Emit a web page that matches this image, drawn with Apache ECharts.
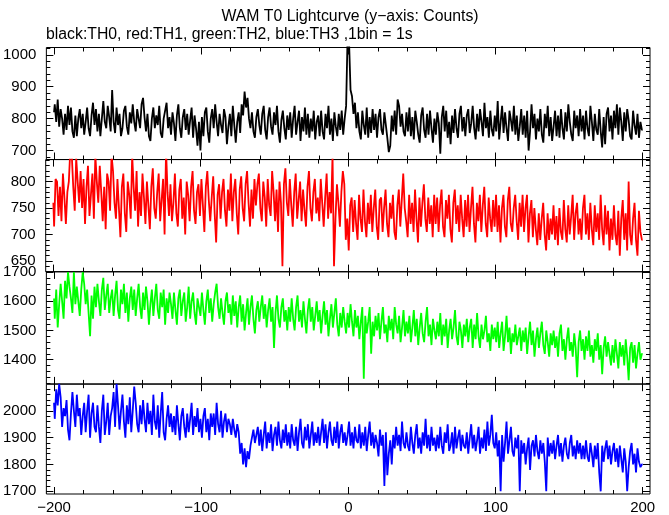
<!DOCTYPE html>
<html><head><meta charset="utf-8">
<script src="https://cdn.jsdelivr.net/npm/echarts@6/dist/echarts.min.js"></script>
<style>html,body{margin:0;padding:0;background:#fff}#c{width:669px;height:515px}</style>
</head><body><div id="c"></div><script>
const titleText = 'WAM T0 Lightcurve (y\u2212axis: Counts)';
const subtitleText = 'black:TH0, red:TH1, green:TH2, blue:TH3 ,1bin = 1s';
const binStart = -200; // time of first 1 s bin

const th0 = [
820,845,790,860,775,830,800,750,815,765, 840,780,835,760,740,810,745,800,830,770,
815,750,790,835,770,745,810,850,780,830, 760,815,745,800,855,790,770,840,805,760,
890,790,755,835,780,815,745,770,825,840, 775,750,820,785,845,790,760,830,800,770,
845,865,805,760,815,745,730,800,835,770, 810,780,840,755,740,800,825,850,770,805,
750,820,785,730,810,845,770,740,805,830, 765,815,750,795,835,740,810,770,715,790,
700,805,745,820,835,760,725,800,830,770, 845,790,745,815,780,755,830,805,720,775,
815,745,840,780,725,790,820,755,845,810, 885,835,865,800,770,820,760,740,805,830,
780,750,815,840,765,735,805,835,775,750, 820,780,840,760,725,795,825,770,735,810,
765,820,740,800,840,750,790,825,730,805, 760,835,750,815,740,800,760,825,735,790,
810,745,825,760,735,815,770,840,750,800, 730,820,775,745,815,765,825,750,800,840,
1060,1040,890,870,815,850,770,820,760,735, 825,780,750,835,740,805,755,830,765,815,
740,805,830,765,750,820,780,740,695,715, 810,760,825,750,860,840,775,815,760,745,
820,760,835,745,805,735,825,790,750,725, 810,835,765,740,815,750,825,770,725,800,
750,820,785,690,805,840,760,825,740,790, 720,810,755,830,770,740,815,840,760,805,
745,810,830,755,785,840,770,735,815,760, 830,790,745,850,770,805,740,825,765,745,
810,760,855,735,790,840,755,820,770,730, 825,795,760,840,750,810,730,775,830,750,
810,740,825,700,760,845,770,815,735,800, 760,830,750,725,815,770,840,745,805,730,
775,825,745,810,740,830,770,735,820,760, 845,790,750,730,825,770,810,745,830,760,
810,735,825,770,745,840,790,730,815,765, 750,830,760,710,805,720,815,835,760,810,
735,825,770,845,750,835,790,730,820,760, 830,795,745,735,825,780,750,815,740,790,
765];

const th1 = [
760,715,805,800,735,790,725,815,770,720, 780,800,860,850,790,745,845,800,760,820,
750,805,720,790,830,735,775,815,730,850, 800,760,830,780,725,790,710,815,800,745,
850,820,760,730,805,750,695,790,815,740, 705,800,775,730,850,790,745,820,715,780,
735,815,770,720,800,755,710,790,825,750, 730,780,815,725,765,805,700,860,780,735,
795,725,760,815,740,715,785,805,730,770, 700,800,775,725,790,820,745,720,780,795,
735,805,755,705,790,820,765,725,770,810, 740,685,775,795,730,780,805,745,715,785,
745,815,725,780,805,740,700,785,810,750, 725,795,820,760,715,785,730,805,755,795,
815,750,725,800,770,715,805,755,735,820, 780,725,785,705,800,760,640,795,825,760,
735,805,755,715,780,815,730,765,800,725, 785,745,715,790,820,750,725,780,805,740,
770,725,805,760,715,770,815,730,780,740, 850,640,730,795,760,715,780,820,795,690,
730,670,755,770,705,765,720,690,775,730, 705,785,725,695,760,720,775,705,750,785,
715,690,765,770,705,750,785,720,695,760, 730,775,705,690,755,785,715,765,815,750,
725,695,775,720,760,705,785,730,685,770, 715,760,795,730,705,770,720,755,695,775,
720,770,705,755,785,715,695,765,730,775, 710,685,760,785,720,755,705,775,730,695,
765,715,775,705,750,790,720,685,760,725, 775,705,755,790,720,695,770,730,705,765,
715,775,705,755,685,750,775,715,695,765, 790,720,705,750,775,725,690,760,715,775,
705,750,775,685,740,765,695,750,710,680, 740,690,730,760,700,670,740,690,730,700,
755,690,735,680,750,705,690,765,710,685, 755,700,735,775,690,740,760,700,730,690,
750,775,700,740,690,760,710,680,755,705, 740,690,775,710,680,755,700,745,670,730,
690,755,700,680,745,660,730,765,690,740, 670,800,700,680,730,760,690,660,745,705,
690];

const th2 = [
1610,1540,1640,1510,1590,1660,1600,1540,1670,1610, 1700,1650,1610,1560,1700,1590,1650,1600,1550,1640,
1700,1660,1590,1640,1560,1480,1620,1540,1650,1580, 1660,1600,1550,1640,1680,1570,1620,1660,1560,1610,
1640,1550,1620,1670,1570,1540,1640,1590,1660,1560, 1630,1530,1610,1650,1570,1640,1550,1610,1660,1580,
1540,1630,1570,1650,1600,1520,1590,1640,1550,1610, 1660,1570,1540,1630,1580,1640,1520,1610,1560,1630,
1590,1540,1630,1570,1520,1610,1640,1550,1600,1630, 1530,1580,1650,1540,1600,1630,1560,1520,1610,1580,
1550,1630,1570,1520,1600,1640,1560,1610,1530,1590, 1630,1660,1580,1540,1610,1560,1520,1600,1630,1560,
1590,1520,1620,1550,1600,1510,1580,1620,1530,1590, 1500,1560,1610,1520,1580,1620,1540,1490,1570,1600,
1530,1580,1620,1540,1590,1510,1570,1610,1530,1580, 1440,1560,1620,1540,1510,1580,1610,1530,1570,1500,
1580,1530,1610,1540,1500,1580,1620,1530,1570,1510, 1600,1540,1490,1570,1610,1530,1580,1500,1550,1600,
1530,1570,1490,1550,1600,1520,1570,1480,1540,1590, 1510,1560,1610,1520,1480,1560,1510,1580,1530,1490,
1560,1510,1590,1530,1480,1570,1510,1550,1470,1530, 1580,1335,1550,1490,1530,1580,1420,1530,1480,1550,
1500,1560,1470,1530,1580,1490,1520,1460,1550,1500, 1540,1470,1580,1520,1490,1550,1460,1510,1570,1480,
1530,1490,1550,1460,1510,1570,1480,1540,1450,1510, 1560,1490,1460,1530,1580,1480,1520,1450,1540,1500,
1470,1530,1480,1560,1450,1520,1480,1540,1440,1500, 1540,1470,1510,1570,1480,1450,1530,1500,1440,1520,
1480,1540,1460,1510,1540,1440,1520,1470,1560,1480, 1440,1520,1470,1500,1550,1460,1490,1430,1520,1470,
1510,1460,1530,1440,1490,1530,1430,1480,1550,1460, 1510,1420,1490,1460,1520,1450,1480,1510,1430,1500,
1460,1510,1420,1480,1530,1450,1500,1410,1470,1510, 1440,1490,1530,1450,1420,1500,1460,1410,1490,1450,
1500,1440,1480,1410,1490,1520,1430,1470,1400,1470, 1510,1430,1460,1410,1490,1440,1340,1460,1500,1430,
1470,1400,1480,1430,1500,1410,1450,1390,1470,1430, 1490,1400,1450,1350,1440,1480,1410,1460,1420,1380,
1450,1390,1470,1420,1370,1460,1410,1450,1380,1470, 1410,1330,1440,1460,1390,1450,1370,1420,1460,1400,
1420];

const th3 = [
2030,1970,2080,2020,2100,2050,1940,2010,1980,2040, 1930,1890,1990,2070,2000,1940,2060,1980,2010,1910,
1980,2030,1920,2000,2060,1900,1990,2030,1940,1920, 2020,1940,1880,2000,2060,1910,1960,2030,1910,1980,
2010,2070,1940,2100,2020,1930,2000,2060,1960,1900, 2020,1950,2050,1920,2000,2090,2030,1950,1920,2020,
1950,2040,1970,1920,2030,1950,2000,1910,2060,1960, 1930,2020,1900,1990,2070,1920,1890,1970,2020,1940,
1990,1920,1980,1910,2020,1950,1890,1980,2010,1940, 1900,1990,1920,1970,2030,1910,1980,1940,2010,1920,
1970,1900,1980,2010,1920,1970,1890,1990,1940,1990, 1910,2030,1950,1920,2000,1900,1960,1990,1920,1970,
1950,1910,1970,1930,1900,1950,1920,1840,1880,1800, 1860,1790,1850,1820,1870,1900,1930,1880,1910,1940,
1870,1930,1850,1910,1960,1860,1920,1880,1950,1850, 1910,1940,1870,1960,1890,1860,1930,1880,1950,1870,
1920,1860,1950,1890,1870,1940,1850,1920,1970,1880, 1860,1940,1890,1950,1860,1910,1960,1870,1920,1880,
1940,1870,1920,1970,1880,1950,1860,1920,1960,1890, 1870,1940,1880,1960,1860,1920,1950,1880,1920,1870,
1910,1960,1870,1920,1860,1940,1890,1880,1950,1860, 1920,1870,1940,1850,1910,1960,1870,1920,1860,1910,
1880,1830,1930,1870,1910,1720,1920,1760,1840,1890, 1800,1910,1860,1940,1870,1910,1850,1960,1880,1860,
1920,1870,1850,1940,1880,1840,1910,1950,1860,1900, 1840,1920,1870,1970,1860,1910,1850,1940,1870,1900,
1850,1910,1860,1940,1870,1840,1920,1880,1950,1850, 1870,1920,1840,1940,1860,1900,1930,1850,1910,1870,
1860,1920,1840,1900,1950,1860,1910,1850,1890,1940, 1840,1900,1860,1930,1850,1960,1870,1910,1985,1880,
1860,1920,1830,1890,1700,1910,1810,1880,1960,1840, 1890,1940,1850,1830,1900,1860,1910,1700,1890,1840,
1880,1800,1860,1900,1780,1870,1890,1830,1910,1850, 1820,1890,1840,1880,1810,1700,1900,1830,1880,1840,
1890,1820,1870,1910,1830,1880,1810,1870,1900,1840, 1820,1880,1910,1830,1870,1820,1890,1840,1880,1820,
1870,1820,1890,1830,1810,1880,1840,1790,1870,1820, 1880,1770,1700,1870,1810,1860,1890,1820,1870,1800,
1850,1880,1810,1860,1790,1870,1820,1770,1860,1810, 1700,1790,1850,1880,1800,1840,1770,1860,1810,1790,
1800];

const seriesList = [th0, th1, th2, th3];
const colors = ['#000000', '#ff0000', '#00ff00', '#0000ff'];
const xLabelTicks = [-200, -100, 0, 100, 200];
const yLabelTicks = [
  [700, 800, 900, 1000],
  [650, 700, 750, 800],
  [1400, 1500, 1600, 1700],
  [1700, 1800, 1900, 2000]
];
const yMinorStep = [20, 10, 20, 20];
const yRanges = [[672, 1023], [630, 841.5], [1317, 1700.6], [1690, 2099]];
const xRange = [-205.2, 205];

// layout
const plotLeft = 45.7, plotRight = 650;
const tops = [47.5, 159.6, 271.9, 384.2];
const panelH = 112;

function range(a, b, s) { const r = []; for (let v = a; v <= b + 1e-9; v += s) r.push(+v.toFixed(6)); return r; }
const xMinor = range(-200, 200, 20);
const fontFam = '"Liberation Sans", Arial, Helvetica, sans-serif';
const fmtX = v => (v < 0 ? '\u2212' + (-v) : String(v));
const fmtY = v => String(v);

const grids = [], xAxes = [], yAxes = [], series = [];
for (let g = 0; g < 4; g++) {
  grids.push({ left: plotLeft, width: plotRight - plotLeft, top: tops[g], height: panelH,
    show: true, borderColor: '#000', borderWidth: 1, backgroundColor: 'transparent' });
  const base = { gridIndex: g, type: 'value', min: xRange[0], max: xRange[1],
    axisLine: { show: false, onZero: false }, splitLine: { show: false } };
  const mk = (pos, vals, len, labels) => Object.assign({}, base, {
    position: pos,
    axisTick: { show: true, inside: true, length: len, customValues: vals, lineStyle: { color: '#000', width: 1 } },
    axisLabel: { show: labels, customValues: xLabelTicks, formatter: fmtX, color: '#000',
      fontFamily: fontFam, fontSize: 15, margin: 6 }
  });
  xAxes.push(mk('bottom', xLabelTicks, 7, g === 3));
  xAxes.push(mk('top', xLabelTicks, 7, false));
  xAxes.push(mk('bottom', xMinor, 4, false));
  xAxes.push(mk('top', xMinor, 4, false));

  const [ymin, ymax] = yRanges[g];
  const majors = yLabelTicks[g];
  const minors = range(Math.ceil(ymin / yMinorStep[g]) * yMinorStep[g], ymax, yMinorStep[g]);
  const yb = { gridIndex: g, type: 'value', min: ymin, max: ymax,
    axisLine: { show: false, onZero: false }, splitLine: { show: false } };
  const mky = (pos, vals, len, labels) => Object.assign({}, yb, {
    position: pos,
    axisTick: { show: true, inside: true, length: len, customValues: vals, lineStyle: { color: '#000', width: 1 } },
    axisLabel: { show: labels, customValues: majors, formatter: fmtY, color: '#000', fontFamily: fontFam, fontSize: 15, margin: 10 }
  });
  yAxes.push(mky('left', majors, 7, true));
  yAxes.push(mky('right', majors, 7, false));
  yAxes.push(mky('left', minors, 4, false));
  yAxes.push(mky('right', minors, 4, false));

  const vals = seriesList[g];
  series.push({
    type: 'line', xAxisIndex: g * 4, yAxisIndex: g * 4,
    data: vals.map((v, i) => [binStart + i, v]),
    step: 'middle', showSymbol: false, symbol: 'none', clip: true,
    lineStyle: { color: colors[g], width: 1.8 }, itemStyle: { color: colors[g] },
    silent: true, animation: false
  });
}

const chart = echarts.init(document.getElementById('c'), null, { renderer: 'canvas' });
chart.setOption({
  backgroundColor: '#fff',
  animation: false,
  grid: grids, xAxis: xAxes, yAxis: yAxes, series: series,
  graphic: [
    { type: 'text', x: 350, y: 9, style: { text: titleText, fill: '#000', font: '15.8px ' + fontFam, textAlign: 'center' } },
    { type: 'text', x: 46, y: 27, style: { text: subtitleText, fill: '#000', font: '15.8px ' + fontFam } }
  ]
});
</script></body></html>
